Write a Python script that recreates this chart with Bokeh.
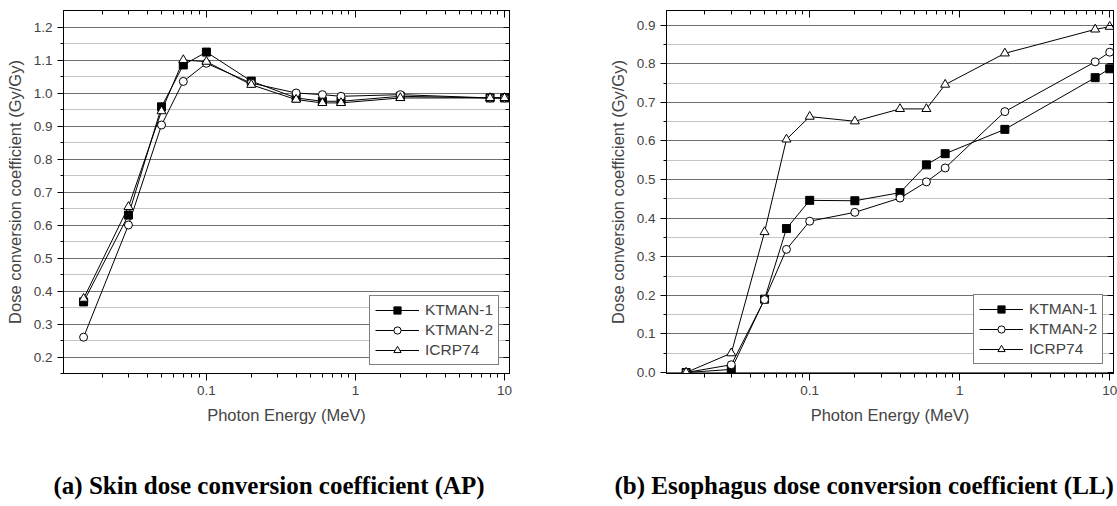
from bokeh.plotting import figure
from bokeh.models import (LinearAxis, LogAxis, FixedTicker, SingleIntervalTicker,
                          PrintfTickFormatter, CustomJSTickFormatter, Range1d,
                          Legend, LegendItem, Title)
from bokeh.layouts import row
from bokeh.embed import file_html
from bokeh.resources import INLINE

# ---------------- data ----------------
energy = [0.015, 0.03, 0.05, 0.07, 0.1, 0.2, 0.4, 0.6, 0.8, 2, 8, 10]

skin_ktman1 = [0.367, 0.63, 0.958, 1.085, 1.124, 1.036, 0.985, 0.975, 0.975, 0.99, 0.985, 0.985]
skin_ktman2 = [0.26, 0.60, 0.903, 1.035, 1.09, 1.03, 1.0, 0.995, 0.99, 0.995, 0.985, 0.985]
skin_icrp74 = [0.377, 0.655, 0.945, 1.10, 1.095, 1.025, 0.98, 0.97, 0.97, 0.985, 0.985, 0.985]

eso_ktman1 = [0.0, 0.008, 0.19, 0.373, 0.446, 0.445, 0.466, 0.538, 0.567, 0.63, 0.764, 0.787]
eso_ktman2 = [0.0, 0.02, 0.189, 0.319, 0.392, 0.415, 0.452, 0.494, 0.53, 0.676, 0.805, 0.83]
eso_icrp74 = [0.0, 0.05, 0.364, 0.604, 0.663, 0.651, 0.683, 0.683, 0.746, 0.827, 0.889, 0.896]

series_names = ["KTMAN-1", "KTMAN-2", "ICRP74"]
x_major = [0.1, 1, 10]
x_minor = [0.02, 0.03, 0.04, 0.05, 0.06, 0.07, 0.08, 0.09,
           0.2, 0.3, 0.4, 0.5, 0.6, 0.7, 0.8, 0.9,
           2, 3, 4, 5, 6, 7, 8, 9]

SANS = "Liberation Sans"
SERIF = "Liberation Serif"


def make_panel(ys, yr, fw, fh, lb, rb, tb, bb, caption, cap_offset, leg_loc):
    p = figure(x_axis_type="log", x_range=Range1d(*yr[0]), y_range=Range1d(*yr[1]),
               frame_width=fw, frame_height=fh,
               min_border_left=lb, min_border_right=rb, min_border_top=tb,
               min_border_bottom=bb, title=None,
               output_backend="svg", toolbar_location=None)
    p.background_fill_color = "white"
    p.border_fill_color = "white"
    p.outline_line_color = "black"
    p.outline_line_width = 1

    xt = FixedTicker(ticks=x_major, minor_ticks=x_minor)
    yt = SingleIntervalTicker(interval=0.1, num_minor_ticks=2)

    # bottom axis
    xa = p.xaxis[0]
    xa.ticker = xt
    xa.formatter = CustomJSTickFormatter(code="return tick.toString()")
    xa.axis_label = "Photon Energy (MeV)"
    xa.axis_label_text_font = SANS
    xa.axis_label_text_font_size = "16.5px"
    xa.axis_label_text_font_style = "normal"
    xa.axis_label_standoff = 8
    xa.major_label_text_font = SANS
    xa.major_label_text_font_size = "13.5px"
    xa.major_label_standoff = 5
    xa.major_tick_out = 7
    xa.major_tick_in = 0
    xa.minor_tick_out = 4
    xa.minor_tick_in = 0
    xa.axis_line_color = "black"

    # left axis
    ya = p.yaxis[0]
    ya.ticker = yt
    ya.formatter = PrintfTickFormatter(format="%.1f")
    ya.axis_label = "Dose conversion coefficient (Gy/Gy)"
    ya.axis_label_text_font = SANS
    ya.axis_label_text_font_size = "16.5px"
    ya.axis_label_text_font_style = "normal"
    ya.axis_label_standoff = 7
    ya.major_label_text_font = SANS
    ya.major_label_text_font_size = "13.5px"
    ya.major_label_standoff = 5
    ya.major_tick_out = 6
    ya.major_tick_in = 0
    ya.minor_tick_out = 3
    ya.minor_tick_in = 0

    # mirror axes (ticks pointing inward, no labels)
    top = LogAxis(ticker=FixedTicker(ticks=x_major, minor_ticks=x_minor),
                  formatter=CustomJSTickFormatter(code="return ''"),
                  major_label_text_font_size="1px", major_label_standoff=0,
                  major_tick_in=7, major_tick_out=0, minor_tick_in=4, minor_tick_out=0)
    right = LinearAxis(ticker=SingleIntervalTicker(interval=0.1, num_minor_ticks=2),
                       formatter=CustomJSTickFormatter(code="return ''"),
                       major_label_text_font_size="1px", major_label_standoff=0,
                       major_tick_in=6, major_tick_out=0, minor_tick_in=4, minor_tick_out=0)
    p.add_layout(top, "above")
    p.add_layout(right, "right")

    # grids
    p.xgrid.visible = False
    p.ygrid.grid_line_color = "#707070"
    p.ygrid.grid_line_width = 1
    p.ygrid.minor_grid_line_color = "#8a8a8a"
    p.ygrid.minor_grid_line_dash = "1 1"
    p.ygrid.minor_grid_line_width = 1

    markers = [("square", 8, "black"), ("circle", 8, "white"), ("triangle", 9, "white")]
    items = []
    for name, yv, (mk, sz, fc) in zip(series_names, ys, markers):
        ln = p.line(energy, yv, line_color="black", line_width=1)
        sc = p.scatter(energy, yv, marker=mk, size=sz, fill_color=fc,
                       line_color="black", line_width=1)
        items.append(LegendItem(label=name, renderers=[ln, sc]))

    leg = Legend(items=items, location=leg_loc,
                 border_line_color="black", border_line_width=1,
                 background_fill_color="white", background_fill_alpha=1,
                 label_text_font=SANS, label_text_font_size="15.5px",
                 glyph_width=44, glyph_height=18, label_height=18,
                 spacing=2, padding=5, margin=0, label_standoff=6)
    p.add_layout(leg)

    cap = Title(text=caption, align="left", offset=cap_offset,
                text_font=SERIF, text_font_size="25px", text_font_style="bold",
                text_color="black", standoff=87)
    p.add_layout(cap, "below")
    return p


p1 = make_panel([skin_ktman1, skin_ktman2, skin_icrp74],
                ((0.011, 10.8), (0.15, 1.25)), 446, 363, 63, 94, 10, 133,
                "(a) Skin dose conversion coefficient (AP)", -10, (306, 8))
p2 = make_panel([eso_ktman1, eso_ktman2, eso_icrp74],
                ((0.0111, 10.6), (-0.0026, 0.938)), 447, 363, 63, 4, 10, 133,
                "(b) Esophagus dose conversion coefficient (LL)", -52, (307, 9))

layout = row(p1, p2)
open("out.html", "w").write(file_html(layout, INLINE))
